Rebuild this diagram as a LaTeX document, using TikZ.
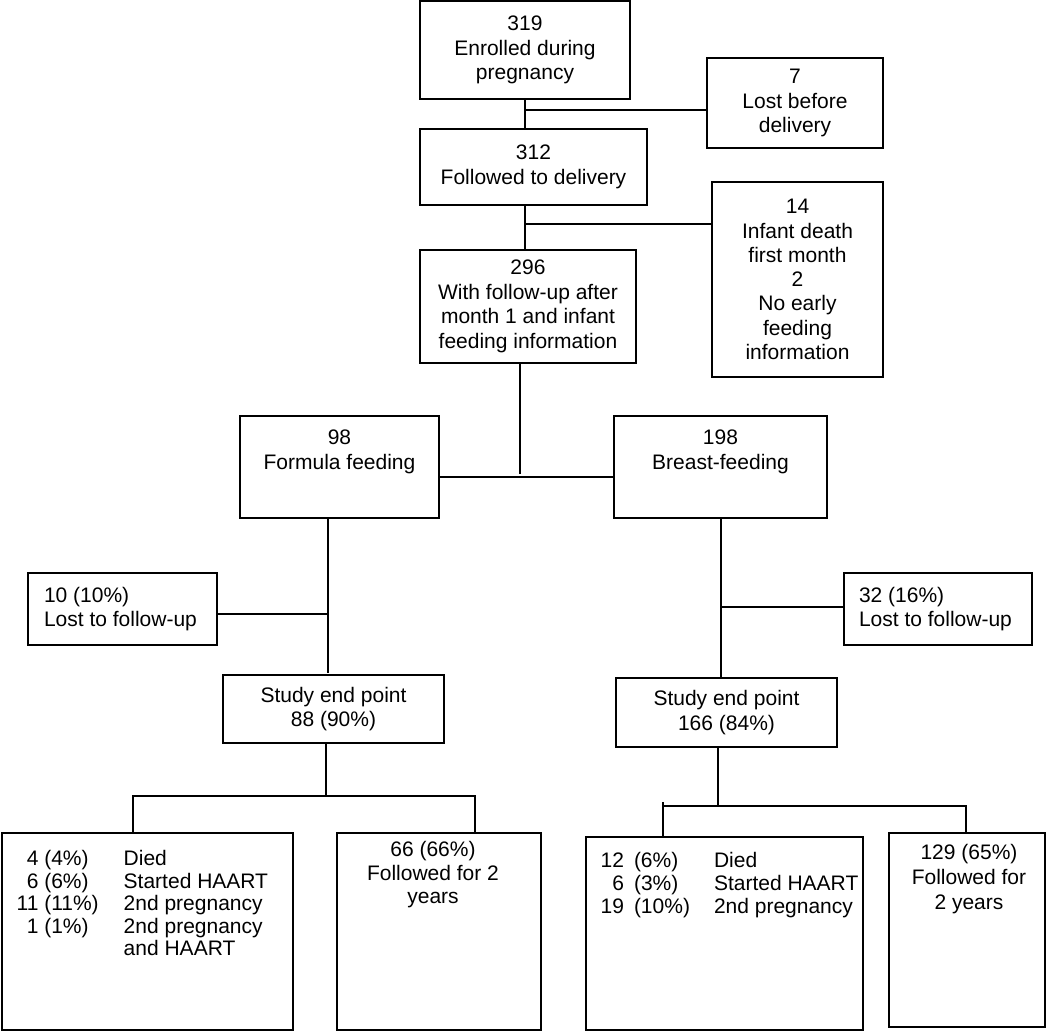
\documentclass[tikz,border=0pt]{standalone}
\usepackage{fontspec}
\setmainfont{Liberation Sans}

\begin{document}
\begin{tikzpicture}[x=1pt,y=-1pt,line width=1.3pt,
  box/.style={draw,line width=1.3pt,inner sep=0pt},
  txt/.style={inner sep=0pt,align=center,font=\fontsize{21}{24.5}\selectfont}]
\fill[white] (0,0) rectangle (1050,1031);
\useasboundingbox (0,0) rectangle (1050,1031);
% main column
\node[box,txt,minimum width=210,minimum height=98] (enrolled) at (525,50) {319\\Enrolled during\\pregnancy};
\node[box,txt,minimum width=176,minimum height=90] (lostdel) at (795,103) {7\\Lost before\\delivery};
\node[box,txt,minimum width=227,minimum height=76] (delivered) at (533.5,167) {312\\Followed to delivery};
\node[box,txt,minimum width=171,minimum height=195,font=\fontsize{21}{24.3}\selectfont] (infdeath) at (797.5,279.5)
  {14\\Infant death\\first month\\2\\No early\\feeding\\information};
\node[box,txt,minimum width=216,minimum height=113] (withfu) at (528,306.5) {296\\With follow-up after\\month 1 and infant\\feeding information};
% feeding arms
\node[box,minimum width=199,minimum height=102] (formula) at (339.5,467) {};
\node[txt,anchor=north] (formulatxt) at ([yshift=-14pt]formula.north) {98\\Formula feeding};
\node[box,minimum width=213,minimum height=102] (breast) at (720.5,467) {};
\node[txt,anchor=north] (breasttxt) at ([yshift=-14pt]breast.north) {198\\Breast-feeding};
\node[box,minimum width=189,minimum height=72] (lostA) at (122.5,609) {};
\node[txt,align=left,anchor=west] (lostAtxt) at ([xshift=16pt]lostA.west) {10 (10\%)\\Lost to follow-up};
\node[box,minimum width=188,minimum height=72] (lostB) at (938,609) {};
\node[txt,align=left,anchor=west] (lostBtxt) at ([xshift=15pt]lostB.west) {32 (16\%)\\Lost to follow-up};
\node[box,txt,minimum width=221,minimum height=68] (endA) at (333.5,709) {Study end point\\88 (90\%)};
\node[box,txt,minimum width=221,minimum height=69] (endB) at (726.5,712.5) {Study end point\\166 (84\%)};
% outcomes
\node[box,minimum width=291,minimum height=197] (outA) at (147.5,931.5) {};
\node[anchor=north west,inner sep=0pt] (outAtxt) at (16,849.2) {\fontsize{21}{22.5}\selectfont
  \begin{tabular}{@{}c@{\hspace{25pt}}l@{}}
  4 (4\%) & Died\\
  6 (6\%) & Started HAART\\
  11 (11\%) & 2nd pregnancy\\
  1 (1\%) & 2nd pregnancy\\
   & and HAART
  \end{tabular}};
\node[box,minimum width=204,minimum height=197] (fuA) at (439,931.5) {};
\node[txt,anchor=north,font=\fontsize{21}{23.5}\selectfont] (fuAtxt) at (433,841) {66 (66\%)\\Followed for 2\\years};
\node[box,minimum width=277,minimum height=193] (outB) at (724.5,933.5) {};
\node[anchor=north west,inner sep=0pt] (outBtxt) at (600,851) {\fontsize{21}{23}\selectfont
  \begin{tabular}{@{}r@{\hspace{10pt}}l@{\hspace{24pt}}l@{}}
  12 & (6\%) & Died\\
  6 & (3\%) & Started HAART\\
  19 & (10\%) & 2nd pregnancy
  \end{tabular}};
\node[box,minimum width=156,minimum height=194] (fuB) at (967,930) {};
\node[txt,anchor=north,font=\fontsize{21}{25}\selectfont] (fuBtxt) at (969,844) {129 (65\%)\\Followed for\\2 years};
% connectors
\coordinate (j1) at (525,110);
\coordinate (j2) at (525,224);
\draw (enrolled.south) -- (enrolled.south |- delivered.north);
\draw (j1) -- (j1 -| lostdel.west);
\draw (delivered.south -| j2) -- (withfu.north -| j2);
\draw (j2) -- (j2 -| infdeath.west);
\coordinate (j3) at (520,474);
\coordinate (j4) at (520,477);
\draw (withfu.south -| j3) -- (j3);
\draw (j4 -| formula.east) -- (j4 -| breast.west);
\coordinate (j5) at (328,614);
\draw (formula.south -| j5) -- ([yshift=1.5pt]endA.north -| j5);
\draw (j5) -- (j5 -| lostA.east);
\coordinate (j6) at (721,607);
\draw (breast.south -| j6) -- (endB.north -| j6);
\draw (j6) -- (j6 -| lostB.west);
% split to outcomes
\coordinate (j7) at (326,796);
\coordinate (j7a) at (133,796);
\coordinate (j7b) at (475,796);
\draw (endA.south -| j7) -- (j7);
\draw (outA.north -| j7a) -- (j7a) -- (j7b) -- (fuA.north -| j7b);
\coordinate (j8) at (718,806);
\coordinate (j8a) at (663,806);
\coordinate (j8b) at (966,806);
\draw (endB.south -| j8) -- (j8);
\draw (outB.north -| j8a) -- ++(0,-34);
\draw (j8a) -- (j8b) -- (fuB.north -| j8b);
\end{tikzpicture}
\end{document}
